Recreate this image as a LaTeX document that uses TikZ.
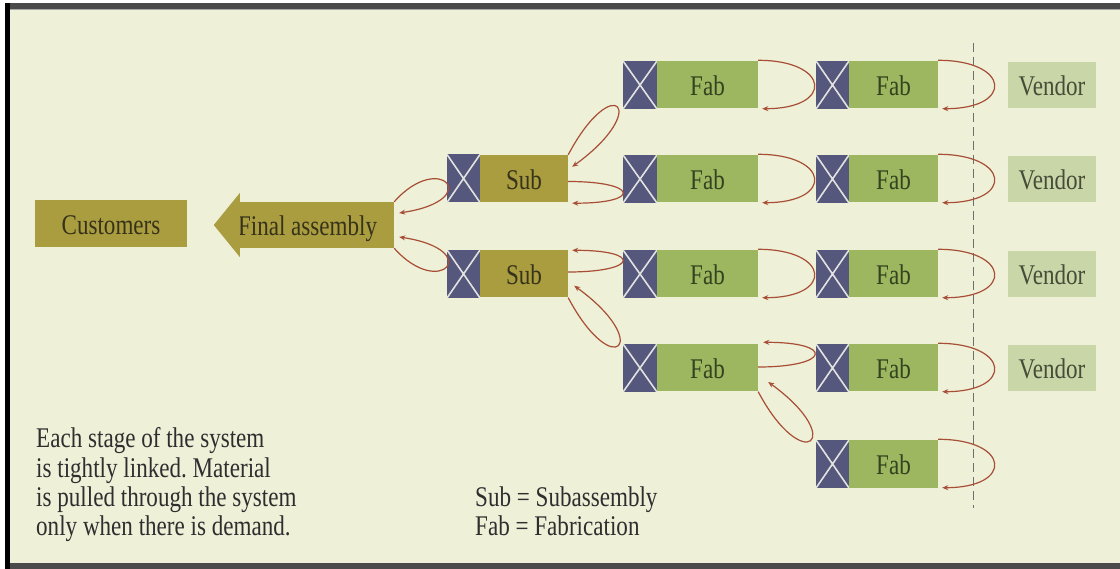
\documentclass[tikz,border=0pt]{standalone}
\usepackage{fontspec}
\setmainfont{Liberation Serif}[FakeStretch=0.81]
\usetikzlibrary{arrows.meta,calc}
\frenchspacing

\definecolor{cream}{HTML}{EEF0D8}
\definecolor{olive}{HTML}{A99D40}
\definecolor{olivetext}{HTML}{37321A}
\definecolor{fabgreen}{HTML}{9DB660}
\definecolor{fabtext}{HTML}{34421F}
\definecolor{vendorgreen}{HTML}{C9D6A8}
\definecolor{vendortext}{HTML}{454D38}
\definecolor{slate}{HTML}{56577C}
\definecolor{xline}{HTML}{E2E3E0}
\definecolor{loopred}{HTML}{A84E36}
\definecolor{inktext}{HTML}{2E2E2E}
\definecolor{framegray}{HTML}{4A4A4A}
\definecolor{cutgray}{HTML}{6E6E6E}

\begin{document}
\begin{tikzpicture}[x=1pt,y=-1pt,
  label font/.style={font=\fontsize{28.5}{30}\selectfont},
  stagebox/.style={rectangle, inner sep=0pt, minimum height=47pt,
    text height=24pt, text depth=2pt, label font},
  olivebox/.style={stagebox, fill=olive, text=olivetext},
  fabbox/.style={stagebox, fill=fabgreen, text=fabtext},
  vendorbox/.style={stagebox, fill=vendorgreen, text=vendortext, minimum height=46pt},
  kanban/.style={rectangle, inner sep=0pt, minimum height=48pt, fill=slate,
    path picture={\draw[xline, line width=1.6pt]
      (path picture bounding box.north west) -- (path picture bounding box.south east)
      (path picture bounding box.south west) -- (path picture bounding box.north east);}},
  pull/.style={draw=loopred, line width=1.2pt, -{Stealth[length=6pt,width=5pt]}},
  cutline/.style={draw=cutgray, line width=1pt, dash pattern=on 9pt off 5pt},
  note/.style={inner sep=0pt, align=left, text=inktext,
    font=\fontsize{28.5}{29.4}\selectfont}
]
\useasboundingbox (0,0) rectangle (1120,569);

% page and frame
\fill[white] (0,0) rectangle (1120,569);
\fill[cream] (9,9) rectangle (1120,563);
\fill[framegray] (5,3) rectangle (1120,9);
\fill[gray!70] (9,9) rectangle (1120,10.5);
\fill[framegray] (5,563) rectangle (1120,569);
\fill[black] (5,3) rectangle (9.5,569);

% customer side
\node[olivebox, minimum width=152pt] (cust) at (111,224) {Customers};
\node[olivebox, minimum width=154pt, minimum height=46pt] (fasm) at (317,225)
  {\makebox[154pt][l]{\hspace{-2pt}Final assembly}};
\fill[olive] ($(fasm.west)+(0,-32)$) -- ($(fasm.west)+(-26,0)$)
  -- ($(fasm.west)+(0,32)$) -- cycle;

% subassembly stages
\node[kanban, minimum width=33pt] (ksb1) at (463.5,178.5) {};
\node[olivebox, minimum width=88pt] (sb1) at (524,178.5) {Sub};
\node[kanban, minimum width=33pt] (ksb2) at (463.5,274) {};
\node[olivebox, minimum width=88pt] (sb2) at (524,274) {Sub};

% fabrication, first column
\foreach \r/\y in {1/85,2/179,3/274,4/368}{
  \node[kanban, minimum width=34pt] (kfa\r) at (640,\y) {};
  \node[fabbox, minimum width=101pt] (fa\r) at (707.5,\y) {Fab};
}
% fabrication, second column
\foreach \r/\y in {1/85,2/179,3/274,4/368,5/464}{
  \node[kanban, minimum width=33pt] (kfb\r) at (832.5,\y) {};
  \node[fabbox, minimum width=89pt] (fb\r) at (893.5,\y) {Fab};
}
% outside suppliers
\foreach \r/\y in {1/85,2/179,3/274,4/368}{
  \node[vendorbox, minimum width=88pt] (vd\r) at (1052,\y) {Vendor};
}

% plant boundary
\coordinate (cut top) at (973,43);
\coordinate (cut bottom) at (973,508);
\draw[cutline] (cut top) -- (cut bottom);

% pull loops between final assembly and subassemblies
\draw[pull] (fasm.north east) .. controls +(46,-52) and +(86,-13) .. ($(fasm.east)+(5,-12)$);
\draw[pull] (fasm.south east) .. controls +(46,52) and +(86,13) .. ($(fasm.east)+(5,12)$);

% pull loops between subassemblies and fabrication
\draw[pull] (sb1.north east) .. controls +(45,-85) and +(80,-58) .. ($(sb1.north east)+(4,12)$);
\draw[pull] ($(sb1.east)+(0,3)$) .. controls +(70,0) and +(70,0) .. ($(sb1.south east)+(4,1)$);
\draw[pull] ($(sb2.east)+(0,-2)$) .. controls +(70,0) and +(70,0) .. ($(sb2.north east)+(4,0)$);
\draw[pull] (sb2.south east) .. controls +(45,85) and +(80,58) .. ($(sb2.south east)+(6,-12)$);

% pull loops between fabrication stages
\foreach \r in {1,2,3}{
  \draw[pull] ($(fa\r.north east)+(0,-1)$) .. controls +(72,0) and +(72,0) .. ($(fa\r.south east)+(4,0)$);
}
\draw[pull] ($(fa4.east)+(0,-1)$) .. controls +(72,0) and +(72,0) .. ($(fa4.north east)+(5,-2)$);
\draw[pull] (fa4.south east) .. controls +(45,85) and +(80,58) .. ($(fa4.east)+(10,14)$);

% pull loops to the vendors
\foreach \r in {1,2,3,4,5}{
  \draw[pull] ($(fb\r.north east)+(0,-1)$) .. controls +(72,0) and +(72,0) .. ($(fb\r.south east)+(4,0)$);
}

% notes
\node[note, anchor=north west] (story) at (36,427.5)
  {Each stage of the system\\is tightly linked. Material\\is pulled through the system\\only when there is demand.};
\node[note, anchor=north west] (legend) at (475,486.5)
  {Sub = Subassembly\\Fab = Fabrication};
\end{tikzpicture}
\end{document}
